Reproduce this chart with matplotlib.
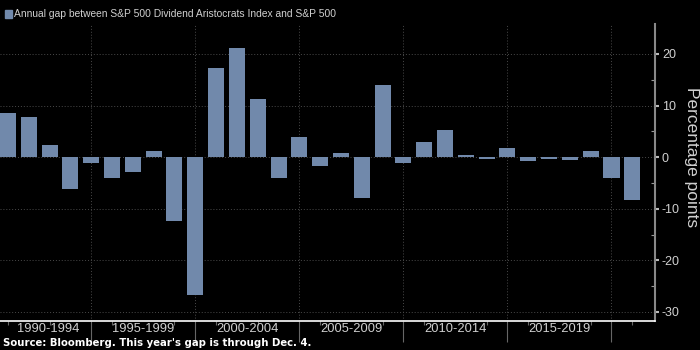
import numpy as np
import matplotlib.pyplot as plt
from matplotlib.patches import Rectangle

years = list(range(1990, 2021))
gap = [8.5, 7.7, 2.3, -6.1, -1.2, -4.0, -2.8, 1.2, -12.3, -26.8,
       17.2, 21.1, 11.2, -4.1, 3.9, -1.7, 0.8, -8.0, 14.0, -1.1,
       2.9, 5.2, 0.4, -0.45, 1.7, -0.7, -0.45, -0.5, 1.2, -4.0, -8.3]
period_labels = ["1990-1994", "1995-1999", "2000-2004", "2005-2009",
                 "2010-2014", "2015-2019"]
yticks = [20, 10, 0, -10, -20, -30]

BG = "black"
BAR = "#7189ab"
TXT = "#d0d0d0"
FONT = ["Liberation Sans", "DejaVu Sans"]

fig = plt.figure(figsize=(7, 3.5), dpi=100, facecolor=BG)
ax = fig.add_axes([0, 0.0837, 0.9357, 0.8477], facecolor=BG)

x = np.arange(len(years))
ax.bar(x, gap, width=0.77, color=BAR, zorder=3)

ax.set_xlim(-0.384, 31.09)
ax.set_ylim(-31.7, 25.8)

# period boundaries sit on the 5th year of each block
bounds = [4, 9, 14, 19, 24, 29]
for b in bounds:
    ax.axvline(b, color="#4a4a4a", lw=0.7, ls=(0, (1, 2)), zorder=1)
for v in yticks:
    ax.axhline(v, color="#4a4a4a", lw=0.7, ls=(0, (1, 2)), zorder=1)

ax.set_xticks(bounds)
ax.set_xticklabels([])
ax.tick_params(axis="x", which="major", direction="out", length=15,
               color="#666666", width=0.8)
ax.set_xticks([0, 2, 5, 8, 10, 12, 15, 18, 20, 23, 25, 28, 30], minor=True)
ax.tick_params(axis="x", which="minor", direction="out", length=3,
               color="#666666", width=0.8)
label_pos = [1.95, 6.5, 11.5, 16.5, 21.5, 26.5]
for p, lab in zip(label_pos, period_labels):
    ax.text(p, -0.008, lab, transform=ax.get_xaxis_transform(),
            ha="center", va="top", color=TXT, fontsize=9.3, family=FONT)

ax.yaxis.tick_right()
ax.set_yticks(yticks)
ax.set_yticklabels([str(v) for v in yticks], color=TXT, fontsize=9,
                   family=FONT)
ax.tick_params(axis="y", which="major", direction="out", length=3,
               color="#bbbbbb", width=1.5, pad=2)
ax.set_yticks([15, 5, -5, -15, -25], minor=True)
ax.tick_params(axis="y", which="minor", direction="in", length=3,
               color="#999999", width=0.8)

for s in ["top", "left"]:
    ax.spines[s].set_visible(False)
ax.spines["bottom"].set_color("white")
ax.spines["bottom"].set_linewidth(1.2)
ax.spines["right"].set_color("#888888")
ax.spines["right"].set_linewidth(1.5)

fig.text(692 / 700, 1 - 157 / 350, "Percentage points", rotation=270,
         ha="center", va="center", color=TXT, fontsize=12.5, family=FONT)

# legend swatch
fig.patches.append(Rectangle((5 / 700, 1 - 17.5 / 350), 7 / 700, 7 / 350,
                             transform=fig.transFigure, color=BAR))
fig.text(14 / 700, 1 - 14 / 350,
         "Annual gap between S&P 500 Dividend Aristocrats Index and S&P 500",
         color=TXT, fontsize=7.4, ha="left", va="center", family=FONT)

fig.text(3 / 700, 1 - 343 / 350,
         "Source: Bloomberg. This year's gap is through Dec. 4.",
         color="white", fontsize=7.3, fontweight="bold", ha="left",
         va="center", family="DejaVu Sans")

fig.savefig("out.png", dpi=100, facecolor=BG)
